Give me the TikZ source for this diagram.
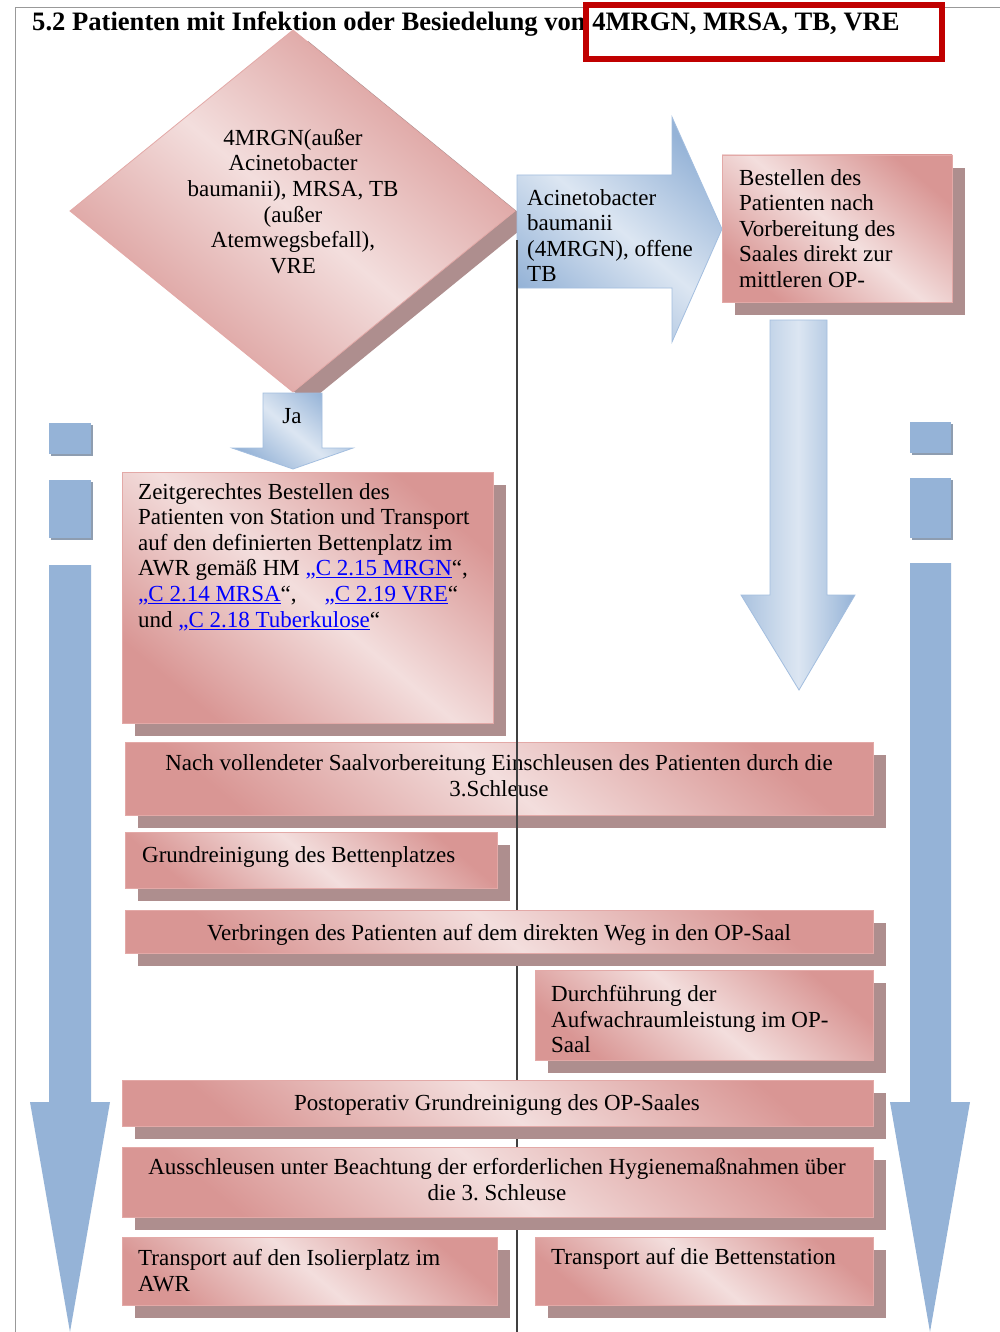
\documentclass[tikz,border=0pt]{standalone}
\usepackage{fontspec}
\setmainfont{Liberation Serif}
\frenchspacing
\definecolor{pinkdark}{HTML}{D99694}
\definecolor{pinklight}{HTML}{F3DEDD}
\definecolor{pinkedge}{HTML}{E3A9A7}
\definecolor{shadowc}{HTML}{AE8E8E}
\definecolor{bluedark}{HTML}{95B3D7}
\definecolor{bluelight}{HTML}{DCE6F2}
\definecolor{blueedge}{HTML}{A3BEDF}
\definecolor{linkblue}{HTML}{0000FF}
\definecolor{titlered}{HTML}{C00000}
\definecolor{sqshadow}{HTML}{8E9DB0}
\newcommand\bodyfont{\fontsize{23}{25.6}\selectfont}
\newcommand\titlefont{\fontsize{26.6}{30}\selectfont\bfseries}
\newcommand\lnk[1]{\textcolor{linkblue}{\underline{#1}}}
\newcommand\flowbox[5]{%
  \fill[shadowc] (#2+13,#3+13) rectangle (#4+13,#5+13);
  \node[pboxst, minimum width={(#4-#2)*1pt}, minimum height={(#5-#3)*1pt}] (#1) at (#2,#3) {};}
\begin{document}
\begin{tikzpicture}[x=1pt,y=-1pt,
  pboxst/.style={draw=pinkedge, line width=0.8pt, top color=pinkdark, bottom color=pinkdark,
    middle color=pinklight, shading angle=-40, anchor=north west, inner sep=0pt, outer sep=0pt},
  pshape/.style={draw=pinkedge, line width=0.8pt, top color=pinkdark, bottom color=pinkdark,
    middle color=pinklight, shading angle=-40},
  bshape/.style={draw=blueedge, line width=0.8pt, top color=bluedark, bottom color=bluedark,
    middle color=bluelight, shading angle=-40},
  bvert/.style={draw=blueedge, line width=0.8pt, left color=bluedark!80!white, right color=bluedark,
    middle color=bluelight},
  solidblue/.style={fill=bluedark},
  tl/.style={anchor=north west, inner sep=0pt, align=left, font=\bodyfont, execute at begin node=\strut},
  tc/.style={anchor=north, inner sep=0pt, align=center, font=\bodyfont, execute at begin node=\strut},
  bl/.style={anchor=base west, inner sep=0pt, font=\bodyfont},
  bc/.style={anchor=base, inner sep=0pt, font=\bodyfont},
  vline/.style={draw=black!75, line width=1.6pt},
  frame/.style={draw=black!40, line width=1pt}]
\useasboundingbox (0,0) rectangle (1000,1332);
\fill[white] (0,0) rectangle (1000,1332);

% page frame
\coordinate (fa) at (1000,8);
\coordinate (fb) at (15,8);
\coordinate (fc) at (15,1332);
\draw[frame] (fa) -- (fb) -- (fc);

% title
\node[anchor=base west, inner sep=0pt, font=\titlefont] (title) at (32,31)
  {5.2 Patienten mit Infektion oder Besiedelung von 4MRGN, MRSA, TB, VRE};

% decision diamond
\fill[shadowc] (308,41) -- (530,222) -- (308,403) -- (85,222) -- cycle;
\path[pshape] (293,30) -- (515,211) -- (293,392) -- (70,211) -- cycle;
\coordinate (dia) at (293,211);
\node[tc] (dtext) at (293,129) {4MRGN(außer\\Acinetobacter\\baumanii), MRSA, TB\\(außer\\Atemwegsbefall),\\VRE};

% Ja arrow
\path[bshape] (263,393) -- (322,393) -- (322,448) -- (353,448) -- (293,469) -- (232,448) -- (263,448) -- cycle;
\node[bc] (ja) at (292,423) {Ja};

% right arrow
\path[bshape] (517,175) -- (672,175) -- (672,117) -- (722,229) -- (672,342) -- (672,288) -- (517,288) -- cycle;
\node[tl] (atext) at (527,189) {Acinetobacter\\baumanii\\(4MRGN), offene\\TB};

% Bestellen box
\flowbox{bestellen}{722}{155}{952}{302}
\node[tl] (tbest) at (739,169) {Bestellen des\\Patienten nach\\Vorbereitung des\\Saales direkt zur\\mittleren OP-};

% middle down arrow
\path[bvert] (770,320) -- (827,320) -- (827,595) -- (855,595) -- (799,690) -- (741,595) -- (770,595) -- cycle;

% Zeitgerechtes box
\flowbox{zeit}{122}{472}{493}{723}
\node[tl] (tzeit) at (138,483) {Zeitgerechtes Bestellen des\\Patienten von Station und Transport\\auf den definierten Bettenplatz im\\AWR gemäß HM \textcolor{linkblue}{„}\lnk{C 2.15 MRGN}“,\\\textcolor{linkblue}{„}\lnk{C 2.14 MRSA}“,\hspace{28pt}\textcolor{linkblue}{„}\lnk{C 2.19 VRE}“\\und \textcolor{linkblue}{„}\lnk{C 2.18 Tuberkulose}“};

% Nach vollendeter box
\flowbox{nach}{125}{742}{873}{815}
\node[tc, font=\fontsize{23}{26.5}\selectfont] (tnach) at (499,754) {Nach vollendeter Saalvorbereitung Einschleusen des Patienten durch die\\3.Schleuse};

% vertical line
\coordinate (vtop) at (517,240);
\coordinate (vbot) at (517,1332);
\draw[vline] (vtop) -- (vbot);

% remaining boxes
\flowbox{grund}{125}{832}{497}{888}
\node[bl] (tgrund) at (142,862) {Grundreinigung des Bettenplatzes};

\flowbox{verb}{125}{910}{873}{953}
\node[bc] (tverb) at (499,940) {Verbringen des Patienten auf dem direkten Weg in den OP-Saal};

\flowbox{durch}{535}{970}{873}{1060}
\node[tl] (tdurch) at (551,985) {Durchführung der\\Aufwachraumleistung im OP-\\Saal};

\flowbox{post}{122}{1080}{873}{1126}
\node[bc] (tpost) at (497,1110) {Postoperativ Grundreinigung des OP-Saales};

\flowbox{aus}{122}{1147}{873}{1217}
\node[tc] (taus) at (497,1158) {Ausschleusen unter Beachtung der erforderlichen Hygienemaßnahmen über\\die 3. Schleuse};

\flowbox{tiso}{122}{1237}{497}{1305}
\node[tl] (ttiso) at (138,1249) {Transport auf den Isolierplatz im\\AWR};

\flowbox{tbet}{535}{1237}{873}{1305}
\node[bl] (ttbet) at (551,1264) {Transport auf die Bettenstation};

% side arrows
\fill[sqshadow] (51,425) rectangle (93,456);
\fill[solidblue] (49,423) rectangle (91,454);
\fill[sqshadow] (51,482) rectangle (93,540);
\fill[solidblue] (49,480) rectangle (91,538);
\fill[solidblue] (49,565) -- (91,565) -- (91,1102) -- (110,1102) -- (70,1332) -- (30,1102) -- (49,1102) -- cycle;

\fill[sqshadow] (912,424) rectangle (953,455);
\fill[solidblue] (910,422) rectangle (951,453);
\fill[sqshadow] (912,480) rectangle (953,540);
\fill[solidblue] (910,478) rectangle (951,538);
\fill[solidblue] (910,563) -- (951,563) -- (951,1102) -- (970,1102) -- (930,1332) -- (890,1102) -- (910,1102) -- cycle;

% highlight box
\node[draw=titlered, line width=6pt, anchor=north west, inner sep=0pt, outer sep=0pt,
  minimum width=356pt, minimum height=54pt] (hl) at (586,5) {};
\end{tikzpicture}
\end{document}
